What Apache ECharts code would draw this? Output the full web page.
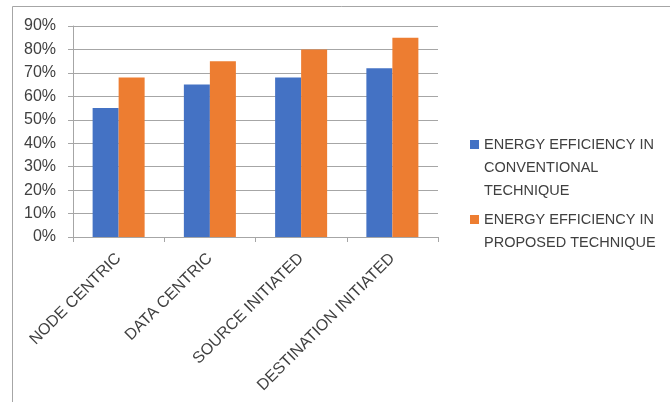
<!DOCTYPE html>
<html>
<head>
<meta charset="utf-8">
<script src="https://cdn.jsdelivr.net/npm/echarts@6/dist/echarts.min.js"></script>
<style>
  html, body { margin: 0; padding: 0; background: #fff; }
  #chart { width: 670px; height: 402px; }
</style>
</head>
<body>
<div id="chart"></div>
<script>
// Routing approaches compared on the x axis
const categories = ['NODE CENTRIC', 'DATA CENTRIC', 'SOURCE INITIATED', 'DESTINATION INITIATED'];
// Energy efficiency in percent
const conventional = [55, 65, 68, 72];
const proposed = [68, 75, 80, 85];
const seriesNames = ['ENERGY EFFICIENCY IN CONVENTIONAL TECHNIQUE', 'ENERGY EFFICIENCY IN PROPOSED TECHNIQUE'];
// Wrapped legend lines for each series
const legendLines = {
  'ENERGY EFFICIENCY IN CONVENTIONAL TECHNIQUE': ['ENERGY EFFICIENCY IN', 'CONVENTIONAL', 'TECHNIQUE'],
  'ENERGY EFFICIENCY IN PROPOSED TECHNIQUE': ['ENERGY EFFICIENCY IN', 'PROPOSED TECHNIQUE']
};
const yTicks = { min: 0, max: 90, interval: 10 };

const FONT = '"Liberation Sans", Arial, sans-serif';
const chart = echarts.init(document.getElementById('chart'), null, { renderer: 'canvas' });

// The legend centres its swatch on the text block; leading blank lines
// put the first text line level with the swatch.
function legendText(name) {
  const lines = legendLines[name];
  const pad = new Array(lines.length - 1).fill('');
  return pad.concat(lines).join('\n');
}

chart.setOption({
  animation: false,
  backgroundColor: '#fff',
  textStyle: { fontFamily: FONT },
  grid: { left: 73, right: 232, top: 26, bottom: 165, containLabel: false },
  graphic: [
    { type: 'line', shape: { x1: 12.5, y1: 6.5, x2: 670, y2: 6.5 }, style: { stroke: '#a6a6a6', lineWidth: 1 } },
    { type: 'line', shape: { x1: 12.5, y1: 6.5, x2: 12.5, y2: 402 }, style: { stroke: '#a6a6a6', lineWidth: 1 } }
  ],
  legend: {
    orient: 'vertical',
    left: 465,
    top: 82,
    itemWidth: 9,
    itemHeight: 9,
    itemGap: -17,
    icon: 'rect',
    formatter: legendText,
    textStyle: { fontFamily: FONT, fontSize: 14.5, color: '#404040', lineHeight: 23 },
    data: seriesNames
  },
  xAxis: {
    type: 'category',
    data: categories,
    axisLine: { lineStyle: { color: '#a6a6a6' } },
    axisTick: { show: true, alignWithLabel: false, length: 5, lineStyle: { color: '#a6a6a6' } },
    axisLabel: { rotate: 45, fontSize: 16, color: '#404040', fontFamily: FONT, margin: 19, interval: 0 }
  },
  yAxis: {
    type: 'value',
    min: yTicks.min,
    max: yTicks.max,
    interval: yTicks.interval,
    axisLine: { show: true, lineStyle: { color: '#a6a6a6' } },
    axisTick: { show: true, length: 5, lineStyle: { color: '#a6a6a6' } },
    splitLine: { lineStyle: { color: '#a6a6a6', width: 1 } },
    axisLabel: { formatter: '{value}%', fontSize: 16, color: '#404040', fontFamily: FONT, margin: 17 }
  },
  series: [
    {
      name: seriesNames[0],
      type: 'bar',
      data: conventional,
      itemStyle: { color: '#4472c4' },
      barGap: '0%',
      barCategoryGap: '43%'
    },
    {
      name: seriesNames[1],
      type: 'bar',
      data: proposed,
      itemStyle: { color: '#ed7d31' },
      barGap: '0%',
      barCategoryGap: '43%'
    }
  ]
});
</script>
</body>
</html>
